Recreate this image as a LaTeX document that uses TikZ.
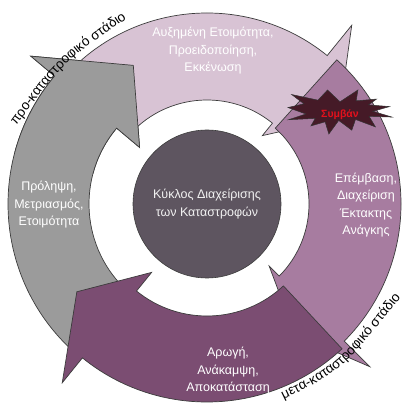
\documentclass[tikz,border=0pt]{standalone}
\usepackage{fontspec}
\setmainfont{Liberation Sans}
\usetikzlibrary{decorations.text}
\definecolor{grayA}{HTML}{9B9B9B}
\definecolor{pinkA}{HTML}{D8C3D4}
\definecolor{lilacA}{HTML}{A77CA0}
\definecolor{plumA}{HTML}{7B4D72}
\definecolor{coreA}{HTML}{5E5560}
\definecolor{edgeA}{HTML}{3C3C3C}
\definecolor{burstA}{HTML}{451A27}
\definecolor{burstText}{HTML}{E3101C}
\newcommand\cycArrow[6]{%
  \path[ringarrow, fill=#1] (#4:#3) arc[start angle=#4, end angle=#5, radius=#3]
    -- (#5:230pt) -- (#6:157pt) -- (#5:88pt) -- (#5:#2)
    arc[start angle=#5, end angle=#4, radius=#2] -- cycle;}
\tikzset{
  ringarrow/.style={draw=edgeA, line width=0.7pt, line join=miter},
  boxtext/.style={align=center, text=white, font=\fontsize{12.5}{17.5}\selectfont, inner sep=0pt},
  coretext/.style={align=center, text=white!90!gray, font=\fontsize{12.5}{18}\selectfont, inner sep=0pt},
  burst/.style={fill=burstA, draw=black!80, line width=0.5pt, line join=miter},
}
\begin{document}
\begin{tikzpicture}[x=1pt, y=1pt]
\path[fill=white, use as bounding box] (0,0) rectangle (403,404);
\begin{scope}[shift={(207,200)}]
  % gray: prevention
  \cycArrow{grayA}{118pt}{199pt}{228}{140}{118}
  % pink: preparedness
  \cycArrow{pinkA}{104pt}{191pt}{137}{51}{33}
  % lilac: response
  \cycArrow{lilacA}{102pt}{194pt}{48}{-45}{-56}
  % plum: recovery
  \cycArrow{plumA}{112pt}{198pt}{-47}{-129}{-146}
  % gray head again on top of the pink tail
  \begin{scope}
    \clip (0,0) -- (100:300pt) arc[start angle=100, end angle=165, radius=300pt] -- cycle;
    \cycArrow{grayA}{118pt}{199pt}{228}{140}{118}
  \end{scope}
  \node[circle, minimum size=148pt, fill=coreA, draw=edgeA, line width=0.6pt] (core) at (0,0) {};
\end{scope}

\node[coretext] (tCore) at (207,200) {Κύκλος Διαχείρισης\\των Καταστροφών};
\node[boxtext] (tPink) at (213,353) {Αυξημένη Ετοιμότητα,\\Προειδοποίηση,\\Εκκένωση};
\node[boxtext] (tGray) at (49,199) {Πρόληψη,\\Μετριασμός,\\Ετοιμότητα};
\node[boxtext] (tLilac) at (366,199) {Επέμβαση,\\Διαχείριση\\Έκτακτης\\Ανάγκης};
\node[boxtext] (tPlum) at (228,33) {Αρωγή,\\Ανάκαμψη,\\Αποκατάσταση};

% explosion
\begin{scope}[shift={(340,292)}]
  \path[burst] (0,10.19) -- (17.92,22) -- (16.15,11.15) -- (36.50,12.92) -- (28.42,7.10)
    -- (49.58,5.42) -- (32.77,0.66) -- (52,-5.07) -- (29.07,-4.36) -- (35.37,-14.86)
    -- (15.50,-7.45) -- (11.78,-18.20) -- (-1.29,-8.42) -- (-11.15,-22) -- (-14.85,-9.83)
    -- (-29.07,-13.89) -- (-24.71,-6.39) -- (-51.35,-7.71) -- (-34.08,-1.99) -- (-52,4.45)
    -- (-36.05,8.19) -- (-48.36,17.46) -- (-22.03,11.83) -- (-12.46,22) -- cycle;
\end{scope}
\node[text=burstText, font=\fontsize{10.5}{12}\selectfont\bfseries, inner sep=0pt] (tBurst) at (340,289) {Συμβάν};

% stage labels along the ring
\path[decorate, decoration={text along path, text align=center,
  text={|\fontsize{13.5}{15}\selectfont|προ-καταστροφικό στάδιο}}]
  (1,258) -- (13,274) .. controls (64,343) .. (131,388) -- (148,399);
\path[decorate, decoration={text along path, text align=center,
  text={|\fontsize{13.5}{15}\selectfont|μετα-καταστροφικό στάδιο}}]
  (266,-4) -- (282,4) .. controls (340,32) .. (402,108) -- (413,122);
\end{tikzpicture}
\end{document}
